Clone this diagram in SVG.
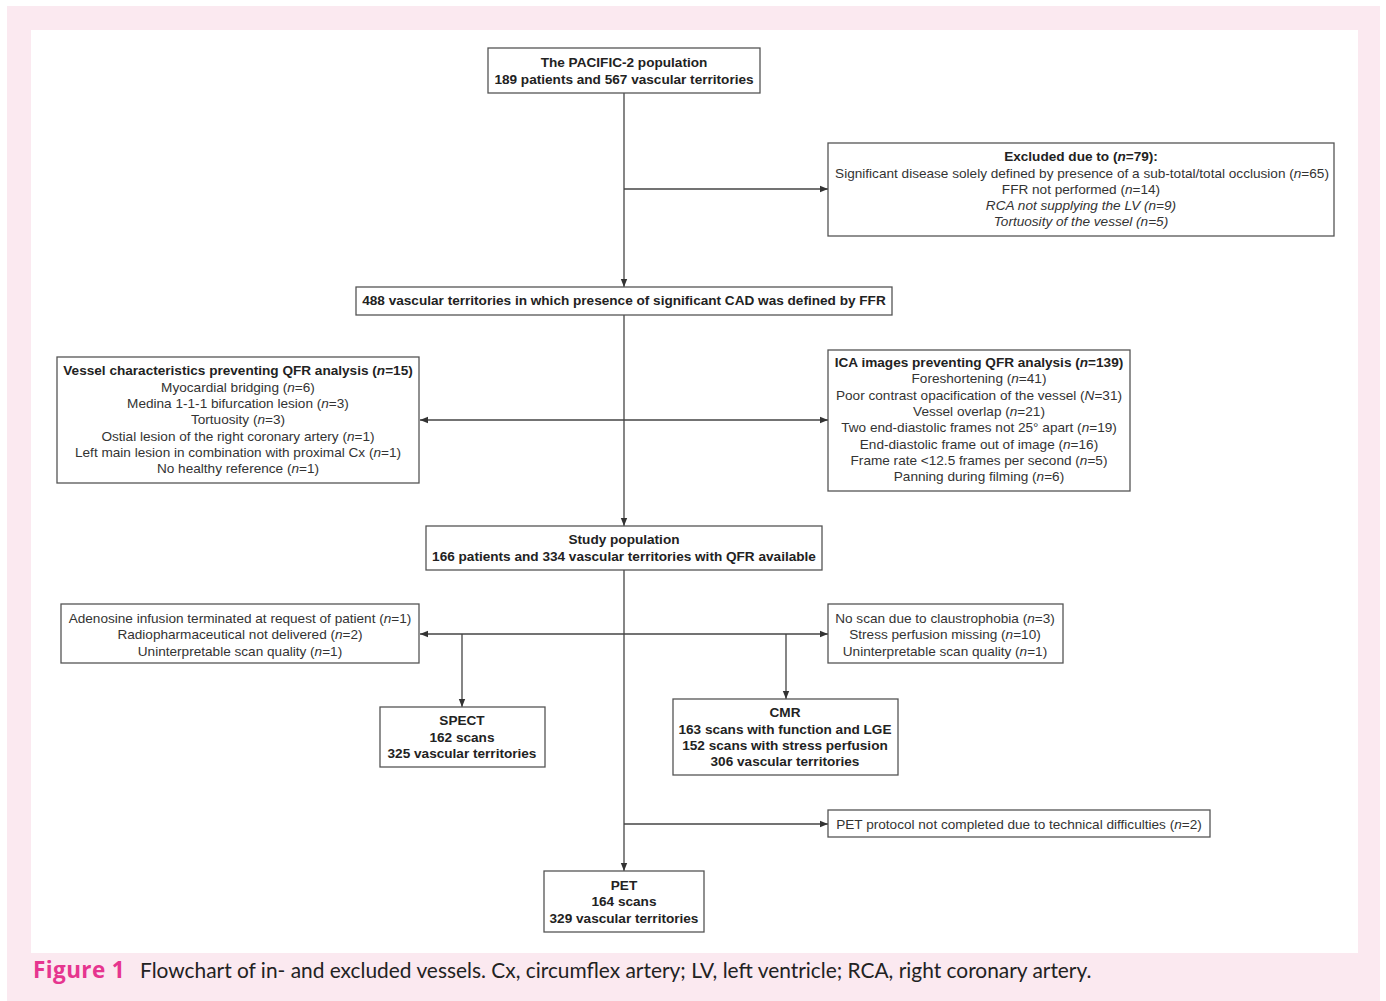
<svg xmlns="http://www.w3.org/2000/svg" width="1386" height="1001" viewBox="0 0 1386 1001">
<defs>
<style>
.box{fill:#fff;stroke:#555;stroke-width:1.3}
.t{font-family:"Liberation Sans",Arial,sans-serif;font-size:13.6px;fill:#333;text-anchor:middle}
.b{font-weight:bold;fill:#222}
.i{font-style:italic}
.ln{stroke:#444;stroke-width:1.3;fill:none}
.cap{font-family:Lato,"Open Sans",sans-serif;font-size:20.9px;fill:#222}
.fig{font-family:"Open Sans",Lato,sans-serif;font-weight:bold;font-size:22.5px;fill:#e6358f;letter-spacing:0.4px}
</style>
<marker id="ah" viewBox="0 0 10 10" refX="10" refY="5" markerWidth="9" markerHeight="8" markerUnits="userSpaceOnUse" orient="auto">
<path d="M0,1 L10,5 L0,9 Z" fill="#333"/>
</marker>
</defs>
<rect x="0" y="0" width="1386" height="1001" fill="#fff"/>
<rect x="7" y="6" width="1373" height="995" fill="#fbe9f0"/>
<rect x="31" y="30" width="1327" height="923" fill="#fff"/>

<g id="connectors">
<line class="ln" x1="624" y1="93" x2="624" y2="287" marker-end="url(#ah)"/>
<line class="ln" x1="624" y1="189" x2="828" y2="189" marker-end="url(#ah)"/>
<line class="ln" x1="624" y1="315" x2="624" y2="526" marker-end="url(#ah)"/>
<line class="ln" x1="624" y1="420" x2="420" y2="420" marker-end="url(#ah)"/>
<line class="ln" x1="624" y1="420" x2="828" y2="420" marker-end="url(#ah)"/>
<line class="ln" x1="624" y1="570" x2="624" y2="871" marker-end="url(#ah)"/>
<line class="ln" x1="624" y1="634" x2="420" y2="634" marker-end="url(#ah)"/>
<line class="ln" x1="624" y1="634" x2="828" y2="634" marker-end="url(#ah)"/>
<line class="ln" x1="462" y1="634" x2="462" y2="707" marker-end="url(#ah)"/>
<line class="ln" x1="786" y1="634" x2="786" y2="699" marker-end="url(#ah)"/>
<line class="ln" x1="624" y1="824" x2="828" y2="824" marker-end="url(#ah)"/>
</g>

<g id="n-pacific">
<rect class="box" x="488" y="48" width="272" height="45"/>
<text class="t b" x="624" y="67">The PACIFIC-2 population</text>
<text class="t b" x="624" y="84">189 patients and 567 vascular territories</text>
</g>

<g id="n-excluded">
<rect class="box" x="828" y="143" width="506" height="93"/>
<text class="t b" x="1081" y="161">Excluded due to (<tspan class="i">n</tspan>=79):</text>
<text class="t" x="1082" y="178">Significant disease solely defined by presence of a sub-total/total occlusion (<tspan class="i">n</tspan>=65)</text>
<text class="t" x="1081" y="194">FFR not performed (<tspan class="i">n</tspan>=14)</text>
<text class="t i" x="1081" y="210">RCA not supplying the LV (n=9)</text>
<text class="t i" x="1081" y="226">Tortuosity of the vessel (n=5)</text>
</g>

<g id="n-488">
<rect class="box" x="356" y="287" width="536" height="28"/>
<text class="t b" x="624" y="305">488 vascular territories in which presence of significant CAD was defined by FFR</text>
</g>

<g id="n-vessel">
<rect class="box" x="57" y="357" width="362" height="126"/>
<text class="t b" x="238" y="375">Vessel characteristics preventing QFR analysis (<tspan class="i">n</tspan>=15)</text>
<text class="t" x="238" y="392">Myocardial bridging (<tspan class="i">n</tspan>=6)</text>
<text class="t" x="238" y="408">Medina 1-1-1 bifurcation lesion (<tspan class="i">n</tspan>=3)</text>
<text class="t" x="238" y="424">Tortuosity (<tspan class="i">n</tspan>=3)</text>
<text class="t" x="238" y="441">Ostial lesion of the right coronary artery (<tspan class="i">n</tspan>=1)</text>
<text class="t" x="238" y="457">Left main lesion in combination with proximal Cx (<tspan class="i">n</tspan>=1)</text>
<text class="t" x="238" y="473">No healthy reference (<tspan class="i">n</tspan>=1)</text>
</g>

<g id="n-ica">
<rect class="box" x="828" y="350" width="302" height="141"/>
<text class="t b" x="979" y="367">ICA images preventing QFR analysis (<tspan class="i">n</tspan>=139)</text>
<text class="t" x="979" y="383">Foreshortening (<tspan class="i">n</tspan>=41)</text>
<text class="t" x="979" y="400">Poor contrast opacification of the vessel (<tspan class="i">N</tspan>=31)</text>
<text class="t" x="979" y="416">Vessel overlap (<tspan class="i">n</tspan>=21)</text>
<text class="t" x="979" y="432">Two end-diastolic frames not 25° apart (<tspan class="i">n</tspan>=19)</text>
<text class="t" x="979" y="449">End-diastolic frame out of image (<tspan class="i">n</tspan>=16)</text>
<text class="t" x="979" y="465">Frame rate &lt;12.5 frames per second (<tspan class="i">n</tspan>=5)</text>
<text class="t" x="979" y="481">Panning during filming (<tspan class="i">n</tspan>=6)</text>
</g>

<g id="n-study">
<rect class="box" x="426" y="526" width="396" height="44"/>
<text class="t b" x="624" y="544">Study population</text>
<text class="t b" x="624" y="561">166 patients and 334 vascular territories with QFR available</text>
</g>

<g id="n-adenosine">
<rect class="box" x="61" y="604" width="358" height="59"/>
<text class="t" x="240" y="623">Adenosine infusion terminated at request of patient (<tspan class="i">n</tspan>=1)</text>
<text class="t" x="240" y="639">Radiopharmaceutical not delivered (<tspan class="i">n</tspan>=2)</text>
<text class="t" x="240" y="656">Uninterpretable scan quality (<tspan class="i">n</tspan>=1)</text>
</g>

<g id="n-noscan">
<rect class="box" x="828" y="604" width="235" height="59"/>
<text class="t" x="945" y="623">No scan due to claustrophobia (<tspan class="i">n</tspan>=3)</text>
<text class="t" x="945" y="639">Stress perfusion missing (<tspan class="i">n</tspan>=10)</text>
<text class="t" x="945" y="656">Uninterpretable scan quality (<tspan class="i">n</tspan>=1)</text>
</g>

<g id="n-spect">
<rect class="box" x="380" y="707" width="165" height="60"/>
<text class="t b" x="462" y="725">SPECT</text>
<text class="t b" x="462" y="742">162 scans</text>
<text class="t b" x="462" y="758">325 vascular territories</text>
</g>

<g id="n-cmr">
<rect class="box" x="673" y="699" width="225" height="76"/>
<text class="t b" x="785" y="717">CMR</text>
<text class="t b" x="785" y="734">163 scans with function and LGE</text>
<text class="t b" x="785" y="750">152 scans with stress perfusion</text>
<text class="t b" x="785" y="766">306 vascular territories</text>
</g>

<g id="n-petprotocol">
<rect class="box" x="828" y="810" width="382" height="27"/>
<text class="t" x="1019" y="829">PET protocol not completed due to technical difficulties (<tspan class="i">n</tspan>=2)</text>
</g>

<g id="n-pet">
<rect class="box" x="544" y="871" width="160" height="61"/>
<text class="t b" x="624" y="890">PET</text>
<text class="t b" x="624" y="906">164 scans</text>
<text class="t b" x="624" y="923">329 vascular territories</text>
</g>

<text class="cap" x="33" y="978"><tspan class="fig">Figure 1</tspan><tspan x="140">Flowchart of in- and excluded vessels. Cx, circumflex artery; LV, left ventricle; RCA, right coronary artery.</tspan></text>
</svg>
